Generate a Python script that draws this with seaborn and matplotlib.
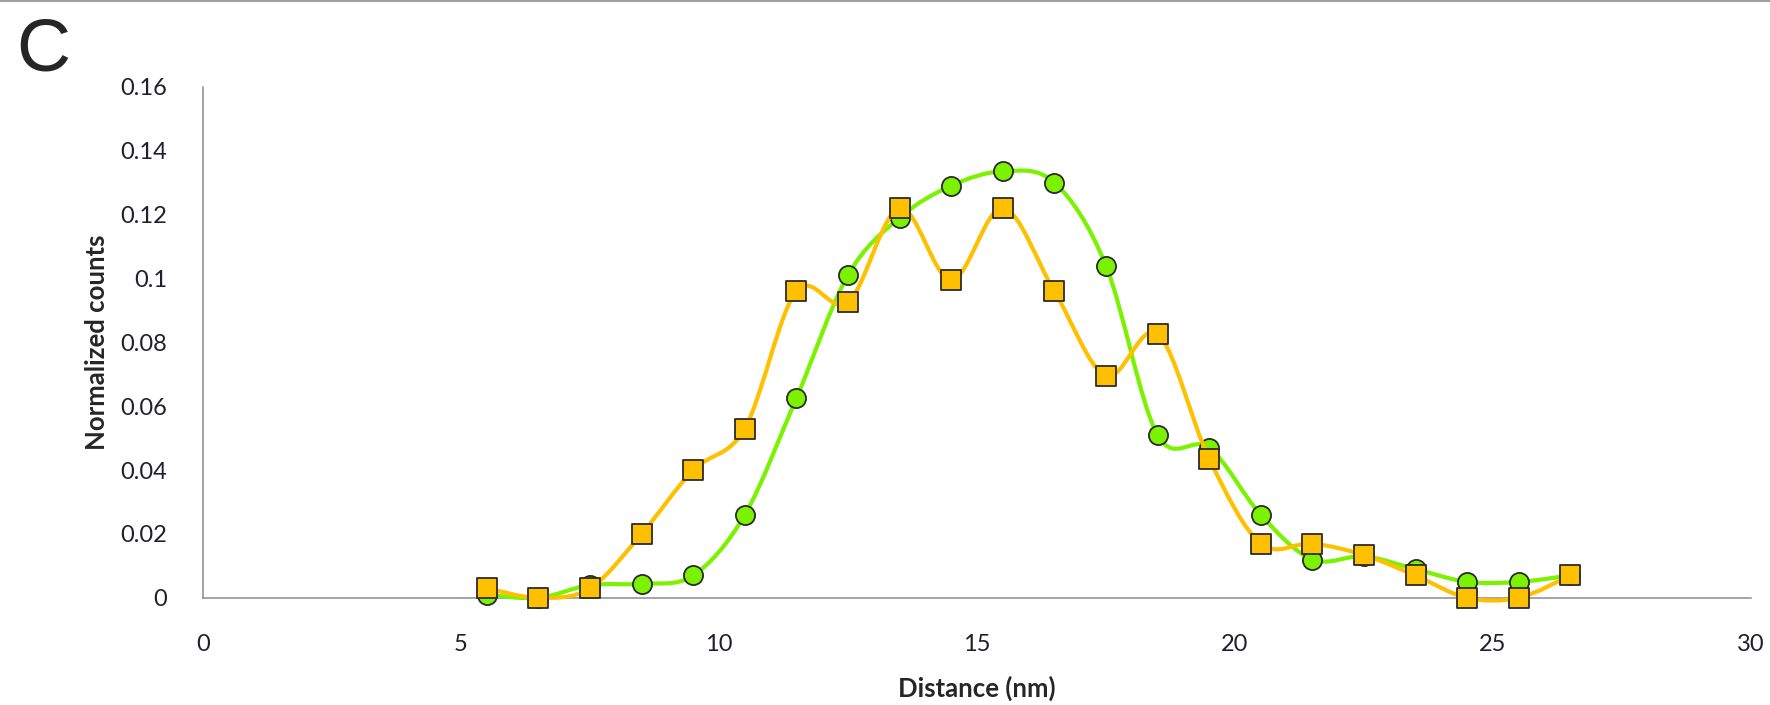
import numpy as np
import matplotlib
matplotlib.use("Agg")
import matplotlib.pyplot as plt
from matplotlib.path import Path
from matplotlib.patches import PathPatch
import seaborn as sns

# data
distance = [5.5, 6.5, 7.5, 8.5, 9.5, 10.5, 11.5, 12.5, 13.5, 14.5, 15.5,
            16.5, 17.5, 18.5, 19.5, 20.5, 21.5, 22.5, 23.5, 24.5, 25.5, 26.5]
green_counts = [0.001, 0.0, 0.004, 0.0044, 0.007, 0.026, 0.0625, 0.101, 0.119, 0.129, 0.1335,
                0.130, 0.104, 0.051, 0.047, 0.026, 0.012, 0.013, 0.009, 0.005, 0.005, 0.007]
orange_counts = [0.003, 0.0, 0.003, 0.020, 0.040, 0.053, 0.096, 0.0925, 0.122, 0.0995, 0.122,
                 0.096, 0.0695, 0.0826, 0.0435, 0.017, 0.017, 0.0134, 0.007, 0.0, 0.0, 0.007]
x_ticks = [0, 5, 10, 15, 20, 25, 30]
y_ticks = [0, 0.02, 0.04, 0.06, 0.08, 0.1, 0.12, 0.14, 0.16]

GREEN = '#7AF200'
ORANGE = '#FFC000'
EDGE = '#2b2b2b'


def smooth_path(xs, ys):
    # Excel-like smoothed line: cubic bezier through every point
    p = np.column_stack([xs, ys])
    n = len(p)
    verts = [p[0]]
    codes = [Path.MOVETO]
    for i in range(n - 1):
        p0 = p[i - 1] if i > 0 else p[i]
        p3 = p[i + 2] if i + 2 < n else p[i + 1]
        c1 = p[i] + (p[i + 1] - p0) / 6.0
        c2 = p[i + 1] - (p3 - p[i]) / 6.0
        verts += [c1, c2, p[i + 1]]
        codes += [Path.CURVE4] * 3
    return Path(verts, codes)


sns.set_style('white')
plt.rcParams['font.family'] = ['Lato', 'DejaVu Sans']

fig = plt.figure(figsize=(17.7, 7.05), dpi=100)
ax = fig.add_axes([0.1147, 0.152, 0.8745, 0.725])

for ys, color, marker, z in [(green_counts, GREEN, 'o', 2), (orange_counts, ORANGE, 's', 4)]:
    ax.add_patch(PathPatch(smooth_path(distance, ys), facecolor='none', edgecolor=color,
                           lw=3.0, zorder=z, clip_on=False, capstyle='round'))
    sns.scatterplot(x=distance, y=ys, ax=ax, marker=marker, s=190, color=color,
                    edgecolor=EDGE, linewidth=1.3, zorder=z + 1, clip_on=False)

ax.set_xlim(0, 30)
ax.set_ylim(0, 0.16)
ax.set_xticks(x_ticks)
ax.set_yticks(y_ticks)
ax.set_xticklabels([f'{v:g}' for v in x_ticks])
ax.set_yticklabels([f'{v:g}' for v in y_ticks])
ax.tick_params(axis='both', length=0, labelsize=17, colors='#1f1f2f')
ax.tick_params(axis='y', pad=26)
ax.tick_params(axis='x', pad=26)

sns.despine(ax=ax)
for side in ['left', 'bottom']:
    ax.spines[side].set_color('#8c8c8c')
    ax.spines[side].set_linewidth(1.1)
    ax.spines[side].set_zorder(1)

ax.set_xlabel('Distance (nm)', fontsize=18.5, fontweight='bold', labelpad=15)
ax.set_ylabel('Normalized counts', fontsize=18.5, fontweight='bold', labelpad=8)

fig.text(0.009, 0.90, 'C', fontsize=54, family='Liberation Sans', va='baseline')
fig.add_artist(plt.Line2D([0, 1], [0.998, 0.998], color='#8c8c8c', lw=1.2))

fig.savefig('out.png', dpi=100)
